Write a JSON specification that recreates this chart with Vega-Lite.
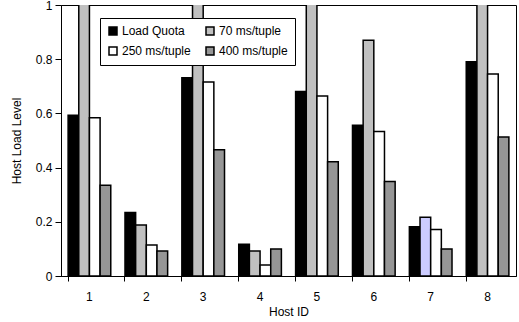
{
  "$schema": "https://vega.github.io/schema/vega-lite/v6.json",
  "width": 455,
  "height": 271,
  "autosize": {"type": "none"},
  "padding": {"left": 61, "top": 5, "right": 3, "bottom": 46},
  "background": "white",
  "config": {
    "font": "Liberation Sans",
    "view": {"stroke": "black", "strokeWidth": 1},
    "axis": {"grid": false, "domainColor": "black", "tickColor": "black", "labelColor": "black", "titleColor": "black", "titleFontWeight": "normal"}
  },
  "data": {
    "values": [
      {"host": 1, "series": "Load Quota", "value": 0.593},
      {"host": 1, "series": "70 ms/tuple", "value": 1.2},
      {"host": 1, "series": "250 ms/tuple", "value": 0.584},
      {"host": 1, "series": "400 ms/tuple", "value": 0.335},
      {"host": 2, "series": "Load Quota", "value": 0.234},
      {"host": 2, "series": "70 ms/tuple", "value": 0.188},
      {"host": 2, "series": "250 ms/tuple", "value": 0.114},
      {"host": 2, "series": "400 ms/tuple", "value": 0.092},
      {"host": 3, "series": "Load Quota", "value": 0.732},
      {"host": 3, "series": "70 ms/tuple", "value": 1.2},
      {"host": 3, "series": "250 ms/tuple", "value": 0.716},
      {"host": 3, "series": "400 ms/tuple", "value": 0.466},
      {"host": 4, "series": "Load Quota", "value": 0.117},
      {"host": 4, "series": "70 ms/tuple", "value": 0.092},
      {"host": 4, "series": "250 ms/tuple", "value": 0.041},
      {"host": 4, "series": "400 ms/tuple", "value": 0.1},
      {"host": 5, "series": "Load Quota", "value": 0.681},
      {"host": 5, "series": "70 ms/tuple", "value": 1.2},
      {"host": 5, "series": "250 ms/tuple", "value": 0.664},
      {"host": 5, "series": "400 ms/tuple", "value": 0.422},
      {"host": 6, "series": "Load Quota", "value": 0.556},
      {"host": 6, "series": "70 ms/tuple", "value": 0.87},
      {"host": 6, "series": "250 ms/tuple", "value": 0.533},
      {"host": 6, "series": "400 ms/tuple", "value": 0.349},
      {"host": 7, "series": "Load Quota", "value": 0.182},
      {"host": 7, "series": "70 ms/tuple", "value": 0.217},
      {"host": 7, "series": "250 ms/tuple", "value": 0.172},
      {"host": 7, "series": "400 ms/tuple", "value": 0.1},
      {"host": 8, "series": "Load Quota", "value": 0.791},
      {"host": 8, "series": "70 ms/tuple", "value": 1.2},
      {"host": 8, "series": "250 ms/tuple", "value": 0.745},
      {"host": 8, "series": "400 ms/tuple", "value": 0.513}
    ]
  },
  "mark": {"type": "bar", "stroke": "black", "strokeWidth": 1.5, "clip": true},
  "encoding": {
    "x": {
      "field": "host", "type": "ordinal", "title": "Host ID",
      "scale": {"paddingInner": 0.25, "paddingOuter": 0.125},
      "axis": {"labelAngle": 0, "bandPosition": 0, "labelFontSize": 12, "titleFontSize": 12, "labelPadding": 10, "titlePadding": 4, "tickSize": 5, "domainWidth": 1}
    },
    "xOffset": {
      "field": "series", "type": "nominal",
      "sort": ["Load Quota", "70 ms/tuple", "250 ms/tuple", "400 ms/tuple"],
      "scale": {"paddingInner": 0, "paddingOuter": 0}
    },
    "y": {
      "field": "value", "type": "quantitative", "title": "Host Load Level",
      "scale": {"domain": [0, 1], "nice": false},
      "axis": {"values": [0, 0.2, 0.4, 0.6, 0.8, 1], "labelFontSize": 12, "titleFontSize": 12, "tickSize": 6, "labelPadding": 3, "titlePadding": 12, "labelExpr": "datum.value == 0 ? '0' : datum.value == 1 ? '1' : format(datum.value, '.1f')"}
    },
    "fill": {
      "condition": {"test": "datum.host == 7 && datum.series == '70 ms/tuple'", "value": "#ccccff"},
      "field": "series", "type": "nominal",
      "sort": ["Load Quota", "70 ms/tuple", "250 ms/tuple", "400 ms/tuple"],
      "scale": {"domain": ["Load Quota", "70 ms/tuple", "250 ms/tuple", "400 ms/tuple"], "range": ["#000000", "#c0c0c0", "#ffffff", "#969696"]},
      "legend": {
        "title": null, "orient": "none", "legendX": 39, "legendY": 13, "direction": "horizontal", "columns": 2,
        "strokeColor": "black", "fillColor": "white", "padding": 7,
        "symbolType": "square", "symbolSize": 64, "symbolStrokeColor": "black", "symbolStrokeWidth": 1.5,
        "labelFontSize": 12, "labelColor": "black", "columnPadding": 12, "rowPadding": 6, "labelOffset": 3
      }
    }
  }
}
